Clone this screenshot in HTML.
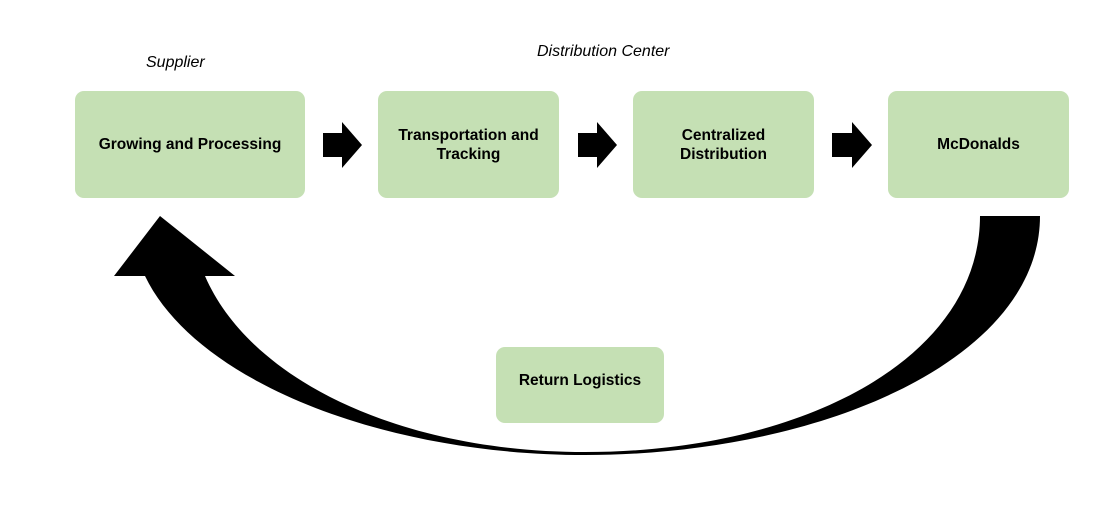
<!DOCTYPE html>
<html><head><style>
body{margin:0;width:1114px;height:528px;background:#fff;position:relative;overflow:hidden;font-family:"Liberation Sans",sans-serif}
.b{position:absolute;background:#c5e0b4;border-radius:9px;display:flex;align-items:center;justify-content:center;text-align:center;font-weight:bold;font-size:15.5px;line-height:19px;color:#000}
.l{position:absolute;font-style:italic;font-size:16px}
</style></head><body>
<div class="l" style="left:146px;top:54px">Supplier</div>
<div class="l" style="left:537px;top:43px">Distribution Center</div>
<div class="b" style="left:75px;top:91px;width:230px;height:107px">Growing and Processing</div>
<div class="b" style="left:378px;top:91px;width:181px;height:107px">Transportation and<br>Tracking</div>
<div class="b" style="left:633px;top:91px;width:181px;height:107px">Centralized<br>Distribution</div>
<div class="b" style="left:888px;top:91px;width:181px;height:107px">McDonalds</div>
<div class="b" style="left:496px;top:347px;width:168px;height:76px;padding-bottom:10px;box-sizing:border-box">Return Logistics</div>
<svg width="1114" height="528" style="position:absolute;left:0;top:0">
<g fill="#000">
<polygon points="323,133 342,133 342,122 362,145 342,168 342,157 323,157"/>
<polygon points="578,133 597,133 597,122 617,145 597,168 597,157 578,157"/>
<polygon points="832,133 852,133 852,122 872,145 852,168 852,157 832,157"/>
<path d="M1040,216 C1040,360 820,455 585,455 C380,455 195,380 145,276 L114,276 L160,216 L235,276 L205,276 C250,380 400,452 585,452 C800,452 980,360 980,216 Z"/>
</g>
</svg>
</body></html>
